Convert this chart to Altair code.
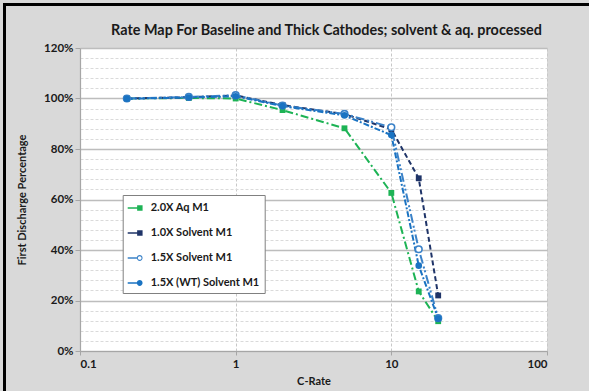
import altair as alt
import pandas as pd

# C-rates tested and first-discharge capacity retention (%) for each cathode build
rates = [0.2, 0.5, 1, 2, 5, 10, 15, 20]
aq_20x = [100.0, 100.2, 100.0, 95.4, 88.2, 62.6, 23.6, 11.8]
solv_10x = [100.0, 100.5, 101.2, 97.4, 93.8, 87.8, 68.4, 22.0]
solv_15x = [100.0, 100.6, 101.3, 97.2, 93.9, 88.6, 40.3, 13.0]
solv_15x_wt = [99.9, 100.4, 100.9, 97.0, 93.3, 85.5, 33.8, 12.8]

series_names = ["2.0X Aq M1", "1.0X Solvent M1", "1.5X Solvent M1", "1.5X (WT) Solvent M1"]
series_values = [aq_20x, solv_10x, solv_15x, solv_15x_wt]
series_colors = ["#1db355", "#1f3468", "#3b82c8", "#1a73c2"]
series_dashes = [[8, 3, 2, 3], [5, 3], [9, 3, 2, 2, 2, 3], [6, 2, 2, 2]]
series_markers = ["square", "square", "open", "circle"]

# legend glyphs: a short line with the series marker at its right end
sq_glyph = "M-1,-0.08H0.2V0.08H-1Z M0.18,-0.34H0.86V0.34H0.18Z"
open_glyph = ("M-1,-0.08H0.16V0.08H-1Z "
              "M0.86,0 A0.36,0.36 0 1,1 0.14,0 A0.36,0.36 0 1,1 0.86,0 Z "
              "M0.73,0 A0.23,0.23 0 1,0 0.27,0 A0.23,0.23 0 1,0 0.73,0 Z")
dot_glyph = ("M-1,-0.08H0.2V0.08H-1Z "
             "M0.86,0 A0.36,0.36 0 1,1 0.14,0 A0.36,0.36 0 1,1 0.86,0 Z")
legend_glyphs = [sq_glyph, sq_glyph, open_glyph, dot_glyph]

rows = []
for name, vals, mk in zip(series_names, series_values, series_markers):
    for r, v in zip(rates, vals):
        rows.append({"series": name, "rate": r, "pct": v, "marker": mk})
df = pd.DataFrame(rows)

FONT = "Lato"
MAJOR = "datum.value % 20 === 0"

x_enc = alt.X(
    "rate:Q",
    scale=alt.Scale(type="log", domain=[0.1, 100], nice=False),
    axis=alt.Axis(
        values=[0.1, 1, 10, 100], format="~g", title="C-Rate",
        grid=True, gridDash=[3, 2], gridColor="#c8c8c8", gridWidth=1,
        domainColor="#a6a6a6", domainWidth=1.2, tickColor="#a6a6a6", tickSize=4,
        labelPadding=3, titleX=233.5, titleY=30, titleBaseline="middle",
    ),
)
y_enc = alt.Y(
    "pct:Q",
    scale=alt.Scale(domain=[0, 120], nice=False),
    axis=alt.Axis(
        values=list(range(0, 121, 4)),
        labelExpr=MAJOR + " ? datum.value + '%' : ''",
        labelOverlap=False,
        title="First Discharge Percentage",
        grid=True,
        gridDash={"condition": {"test": MAJOR, "value": []}, "value": [3, 2]},
        gridColor={"condition": {"test": MAJOR, "value": "#bdbdbd"}, "value": "#dadada"},
        gridWidth={"condition": {"test": MAJOR, "value": 1.6}, "value": 1},
        tickOpacity={"condition": {"test": MAJOR, "value": 1}, "value": 0},
        domainColor="#a6a6a6", domainWidth=1.2, tickColor="#a6a6a6", tickSize=5,
        labelPadding=2, titleX=-58, titleY=151.5, titleAngle=-90,
        titleBaseline="middle", titleAlign="center",
    ),
)

color_scale = alt.Scale(domain=series_names, range=series_colors)
no_legend = alt.Color("series:N", scale=color_scale, legend=None)

# layer with no drawn points: it only carries the legend and its line+marker glyphs
legend_layer = alt.Chart(df).transform_filter("false").mark_point(filled=True, opacity=1).encode(
    x=x_enc, y=y_enc,
    color=alt.Color(
        "series:N", scale=color_scale,
        legend=alt.Legend(
            title=None, orient="none", legendX=42.7, legendY=147,
            fillColor="white", strokeColor="#808080", padding=5, rowPadding=12,
            symbolSize=256, symbolOpacity=1, symbolStrokeWidth=0,
            labelFont=FONT, labelFontSize=11, labelFontWeight="bold",
            labelColor="#1a1a1a", labelOffset=7,
        ),
    ),
    shape=alt.Shape("series:N", scale=alt.Scale(domain=series_names, range=legend_glyphs)),
)

lines = alt.Chart(df).mark_line(strokeWidth=2).encode(
    x=x_enc, y=y_enc, color=no_legend,
    strokeDash=alt.StrokeDash("series:N", scale=alt.Scale(domain=series_names, range=series_dashes), legend=None),
    detail="series:N",
)

squares = alt.Chart(df).transform_filter("datum.marker === 'square'").mark_point(
    shape="square", filled=True, size=34, opacity=1
).encode(x=x_enc, y=y_enc, color=no_legend)

dots = alt.Chart(df).transform_filter("datum.marker === 'circle'").mark_point(
    shape="circle", filled=True, size=44, opacity=1
).encode(x=x_enc, y=y_enc, color=no_legend)

rings = alt.Chart(df).transform_filter("datum.marker === 'open'").mark_point(
    shape="circle", filled=False, fill="white", strokeWidth=1.6, size=44, opacity=1
).encode(x=x_enc, y=y_enc, color=no_legend)

# outer frame along the top and left edges
frame_data = alt.Data(values=[{"k": 0}])
frame_top = alt.Chart(frame_data).mark_rule(color="black", strokeWidth=3).encode(
    x=alt.value(-77), x2=alt.value(509), y=alt.value(-43.5)
)
frame_left = alt.Chart(frame_data).mark_rule(color="black", strokeWidth=3).encode(
    x=alt.value(-75.5), y=alt.value(-45), y2=alt.value(343)
)

chart = alt.layer(
    legend_layer, lines, squares, rings, dots, frame_top, frame_left
).properties(
    width=467, height=303,
    autosize=alt.AutoSizeParams(type="none"),
    padding={"left": 80, "top": 48, "right": 42, "bottom": 40},
    background="#d9d9d9",
    title=alt.TitleParams(
        "Rate Map For Baseline and Thick Cathodes; solvent & aq. processed",
        font=FONT, fontSize=14.4, fontWeight="bold", color="#1a1a1a",
        anchor="middle", frame="group", dx=13, dy=47.5, offset=0, baseline="alphabetic",
    ),
).configure_view(
    fill="white", stroke=None
).configure_axis(
    labelFont=FONT, labelFontSize=11.5, labelFontWeight="bold", labelColor="#1a1a1a",
    titleFont=FONT, titleFontSize=11, titleFontWeight="bold", titleColor="#1a1a1a",
)

chart.save("out.html", embed_options={"renderer": "svg", "actions": False})
